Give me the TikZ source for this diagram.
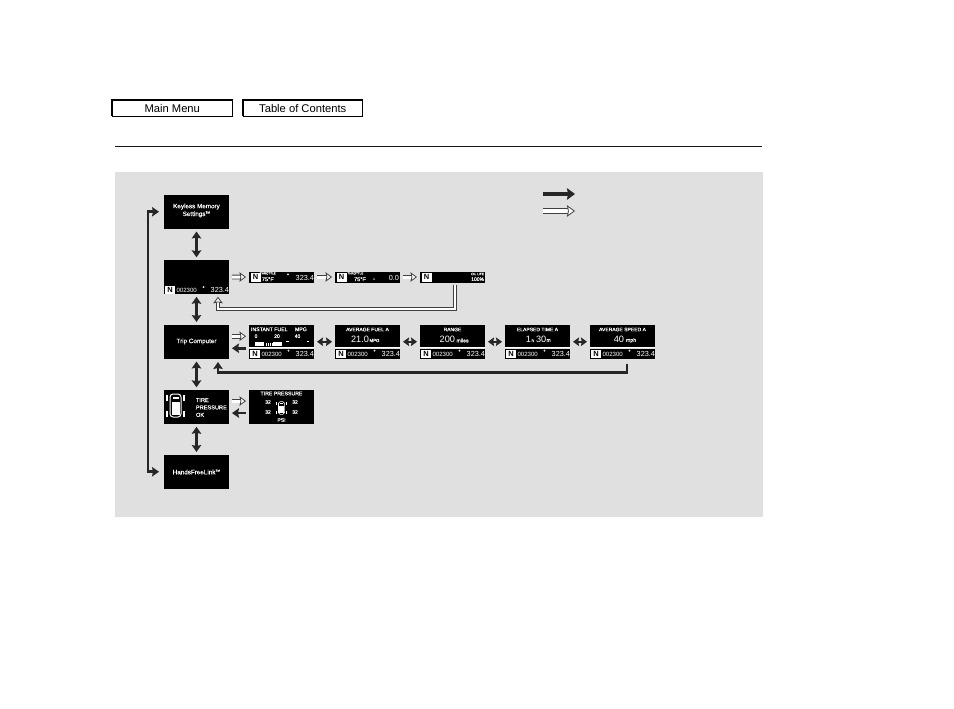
\documentclass[tikz,border=0pt]{standalone}
\usepackage{fontspec}
\setmainfont{Liberation Sans}
\newfontfamily\fauxb[FakeBold=0.3]{Liberation Sans}
\newfontfamily\symb{DejaVu Sans}
\usetikzlibrary{arrows.meta,calc}
\newcommand{\fs}[1]{\fontsize{#1}{#1}\selectfont}
\tikzset{
  screen/.style={fill=black,draw=none,inner sep=0pt,outer sep=0pt,minimum width=65pt,anchor=north west,text=white,align=center},
  tall/.style={minimum height=33.5pt},
  slim/.style={minimum height=11pt},
  lbl/.style={text=white,inner sep=0pt,outer sep=0pt,font=\fauxb\fs{6.3}},
  nbox/.style={fill=white,text=black,inner sep=0pt,outer sep=0pt,minimum width=10pt,minimum height=8pt,font=\bfseries\fs{7.5}},
  blk/.style={draw=black!85,line width=2.6pt,line join=miter},
  blktip/.style={-{Stealth[length=7pt,width=9.5pt,inset=1pt]}},
  blkboth/.style={{Stealth[length=7pt,width=9.5pt,inset=1pt]}-{Stealth[length=7pt,width=9.5pt,inset=1pt]}},
  blkflat/.style={{Stealth[length=6pt,width=8.5pt,inset=.8pt]}-{Stealth[length=6pt,width=8.5pt,inset=.8pt]}},
  wht/.style={draw=black!75,line width=.8pt,double=white,double distance=3pt,line join=miter,
    -{Stealth[length=6.5pt,width=9.5pt,inset=1pt,fill=white,line width=.8pt]}},
  btn/.style={draw=black,fill=white,line width=.7pt,inner sep=0pt,outer sep=0pt,anchor=north west,minimum height=16.5pt,font=\fs{11.2},text=black},
}
% name, left x, top y of the strip
\newcommand{\statusbar}[3]{%
  \node[nbox] (#1n) at (#2+6,#3+4.5) {N};
  \node[lbl,font=\fs{6.1},anchor=west] (#1a) at (#2+12.5,#3+5.3) {002300};
  \node[lbl,font=\fauxb\fs{5.5}] (#1b) at (#2+39.5,#3+2.8) {°};
  \node[lbl,font=\fs{7.3},anchor=east] (#1c) at (#2+65,#3+4.8) {323.4};
}
% centre x, y, scale
\newcommand{\carshape}[3]{%
  \begin{scope}[shift={(#1,#2)},scale=#3]
    \draw[white,line width=#3*1pt,rounded corners=#3*3pt] (-5.5,-11.5) rectangle (5.5,11.5);
    \fill[white] (-4,-4) rectangle (4,9);
    \fill[white] (-3,-9) rectangle (3,-6.5);
    \foreach \wx in {-1,1}{\foreach \wy in {-1,1}{
      \fill[white] (\wx*8.5-1.2,\wy*8-3) rectangle (\wx*8.5+1.2,\wy*8+3);}}
  \end{scope}}
\begin{document}
\begin{tikzpicture}[x=1pt,y=-1pt]
\useasboundingbox (0,0) rectangle (954,709);
\fill[white] (0,0) rectangle (954,709);
% header
\node[btn,minimum width=120.5pt] (menu) at (112,100) {Main Menu};
\node[btn,minimum width=119.5pt] (toc) at (243,100) {Table of Contents};
\draw[line width=1.6pt] (menu.south west) |- (menu.north east);
\draw[line width=1.2pt] (toc.south west) |- (toc.north east);
\coordinate (ruleL) at (115,146.5);
\coordinate (ruleR) at (762,146.5);
\draw[line width=.8pt,black!90] (ruleL) -- (ruleR);
\fill[black!12] (115,172) rectangle (763,517);
% legend
\coordinate (la) at (543,194); \coordinate (lb) at (575,194);
\coordinate (lc) at (543,211); \coordinate (ld) at (575,211);
\draw[blk,line width=3.6pt,-{Stealth[length=8pt,width=11.5pt,inset=1pt]}] (la) -- (lb);
\draw[wht,double distance=3.6pt,-{Stealth[length=8pt,width=11.5pt,inset=1pt,fill=white,line width=.8pt]}] (lc) -- (ld);
% left column
\node[screen,tall] (key) at (164,195) {};
\node[lbl,align=center] (keyt) at (196.5,210.5) {Keyless Memory\\[1.5pt]Settings\textsuperscript{\fs{3}TM}};
\node[screen,tall] (odo) at (164,260.3) {};
\statusbar{odos}{164}{285.5}
\node[screen,tall] (trip) at (164,325) {};
\node[lbl] (tript) at (196.5,341.5) {Trip Computer};
\node[screen,tall] (tire) at (164,390.3) {};
\carshape{175.5}{405.5}{1}
\node[lbl,align=left,anchor=west,font=\fauxb\fs{5.6}] (tiret) at (196,407.5) {TIRE\\[1.8pt]PRESSURE\\[1.8pt]OK};
\node[screen,tall] (hands) at (164,455) {};
\node[lbl] (handst) at (196.5,472) {HandsFreeLink\textsuperscript{\fs{3}TM}};
% row 1
\node[screen,slim] (ra) at (249,271.5) {};
\node[nbox,minimum height=9pt] (ran) at (255.5,277) {N};
\node[lbl,align=center] (rat) at (267.8,276.8) {{\fs{3}THROTTLE}\\[.4pt]{\fs{5.6}75°F}};
\node[lbl,font=\fauxb\fs{5.5}] (rav) at (288,275.5) {°};
\node[lbl,font=\fs{7.3},anchor=east] (raw) at (314,277.5) {323.4};
\node[screen,slim] (rb) at (335,271.5) {};
\node[nbox,minimum height=9pt] (rbn) at (341.5,277) {N};
\node[lbl,align=left,anchor=west] (rbt) at (347.5,276.8) {{\fs{3}THROTTLE}\\[.4pt]\hspace*{6.5pt}{\fs{5.6}75°F}};
\node[lbl,font=\symb\fs{3.5}] (rbv) at (374.5,279.5) {▸};
\node[lbl,font=\fs{7.3},anchor=east] (rbw) at (399,277.5) {0.0};
\node[screen,slim] (oil) at (420,271.5) {};
\node[nbox,minimum height=9pt] (oiln) at (426.5,277) {N};
\node[lbl,font=\fauxb\fs{3.2},anchor=east] (oilt) at (484,274) {OIL LIFE};
\node[lbl,font=\fauxb\fs{5},anchor=east] (oilu) at (484,279.2) {100\%};
% row 3
\foreach \nm/\px in {sa/249,sb/335,sc/420,sd/505,se/590}{
  \node[screen,minimum height=22pt] (\nm) at (\px,325) {};
  \node[screen,minimum height=10pt] (\nm s) at (\px,348.5) {};
  \draw[white,line width=.7pt] (\nm.south west) -- (\nm.south east);
  \statusbar{\nm x}{\px}{349}
}
\node[screen,minimum height=33.5pt,fill=none] (sao) at (249,325) {};
\node[screen,minimum height=33.5pt,fill=none] (sbo) at (335,325) {};
\node[screen,minimum height=33.5pt,fill=none] (sco) at (420,325) {};
\node[screen,minimum height=33.5pt,fill=none] (sdo) at (505,325) {};
\node[screen,minimum height=33.5pt,fill=none] (seo) at (590,325) {};
% instant fuel
\node[lbl,font=\fauxb\fs{5.2},anchor=west] (iaa) at (251,329.3) {INSTANT FUEL};
\node[lbl,font=\fauxb\fs{5.2},anchor=west] (iab) at (295,329.3) {MPG};
\node[lbl,font=\fauxb\fs{5}] (ia0) at (256,336.2) {0};
\node[lbl,font=\fauxb\fs{5}] (ia2) at (277,336.2) {20};
\node[lbl,font=\fauxb\fs{5}] (ia4) at (297.5,336.2) {40};
\fill[white] (255,342) rectangle (264,346);
\foreach \tk in {265.5,267.5,270,272}{\fill[white] (\tk,342.5) rectangle (\tk+.8,346);}
\fill[white] (273,342) rectangle (282,346);
\fill[white] (286,340.5) rectangle (288.5,341.5);
\fill[white] (306.5,340.5) rectangle (309,341.5);
% average fuel
\node[lbl,font=\fauxb\fs{5}] (ba) at (367.5,329.5) {AVERAGE FUEL A};
\node[lbl,font=\fs{9.2},anchor=east] (bb) at (369,339.5) {21.0};
\node[lbl,font=\fauxb\fs{4.4},anchor=west] (bc) at (369.5,340.5) {MPG};
% range
\node[lbl,font=\fauxb\fs{5}] (ca) at (452.5,329.5) {RANGE};
\node[lbl,font=\fs{9.2},anchor=east] (cb) at (455,339.5) {200};
\node[lbl,font=\fauxb\fs{5.2},anchor=west] (cc) at (456.5,340.5) {miles};
% elapsed
\node[lbl,font=\fauxb\fs{5}] (da) at (537.5,329.5) {ELAPSED TIME A};
\node[lbl,font=\fs{9.2},anchor=east] (db) at (531,339.5) {1};
\node[lbl,font=\fauxb\fs{4.6},anchor=west] (dc) at (531.5,340.5) {h};
\node[lbl,font=\fs{9.2},anchor=west] (dd) at (536,339.5) {30};
\node[lbl,font=\fauxb\fs{5},anchor=west] (de) at (546.5,340.5) {m};
% speed
\node[lbl,font=\fauxb\fs{5}] (ea) at (622.5,329.5) {AVERAGE SPEED A};
\node[lbl,font=\fs{9.2},anchor=east] (eb) at (624,339.5) {40};
\node[lbl,font=\fauxb\fs{5.2},anchor=west] (ec) at (626,340.5) {mph};
% tire pressure
\node[screen,tall] (tp) at (249,390.3) {};
\node[lbl,font=\fauxb\fs{5.2}] (tpa) at (281.5,393.5) {TIRE PRESSURE};
\node[lbl,font=\fauxb\fs{5}] (tpb) at (268,402) {32};
\node[lbl,font=\fauxb\fs{5}] (tpc) at (295,402) {32};
\node[lbl,font=\fauxb\fs{5}] (tpd) at (268,412) {32};
\node[lbl,font=\fauxb\fs{5}] (tpe) at (295,412) {32};
\node[lbl,font=\fauxb\fs{5}] (tpf) at (281.5,420) {PSI};
\carshape{281.5}{408}{.55}
% connectors
\draw[blk,blkboth] ([xshift=-5pt]key.west) -- ++(-11,0) |- ([xshift=-5pt]hands.west);
\foreach \ua/\ub in {key/odo,odo/trip,trip/tire,tire/hands}{
  \draw[blk,blkboth] ([yshift=-3pt]\ua.south) -- ([yshift=3pt]\ub.north);}
\foreach \ua/\ub in {sbo/sco,sco/sdo,sdo/seo,sao/sbo}{
  \draw[blk,blkflat,line width=2.2pt] ([xshift=3pt]\ua.east) -- ([xshift=-3pt]\ub.west);}
\draw[wht] ([xshift=3pt]odo.east) -- ([xshift=-3pt]ra.west);
\draw[wht] ([xshift=3pt]ra.east) -- ([xshift=-3pt]rb.west);
\draw[wht] ([xshift=3pt]rb.east) -- ([xshift=-3pt]oil.west);
\draw[wht,double distance=2pt] ([xshift=2.5pt,yshift=-2.5pt]oil.south) -- ++(0,24) -| ([xshift=21.5pt,yshift=-3pt]odo.south);
\draw[wht] ([xshift=3pt,yshift=5.5pt]trip.east) -- ([xshift=-3pt,yshift=5.5pt]sao.west);
\draw[blk,blktip] ([xshift=-3pt,yshift=-6.5pt]sao.west) -- ([xshift=3pt,yshift=-6.5pt]trip.east);
\draw[wht] ([xshift=3pt,yshift=6pt]tire.east) -- ([xshift=-3pt,yshift=6pt]tp.west);
\draw[blk,blktip] ([xshift=-3pt,yshift=-6pt]tp.west) -- ([xshift=3pt,yshift=-6pt]tire.east);
\draw[blk,blktip] ([xshift=4.5pt,yshift=-5pt]seo.south) -- ++(0,9) -| ([xshift=21.5pt,yshift=-3.5pt]trip.south);
\end{tikzpicture}
\end{document}
